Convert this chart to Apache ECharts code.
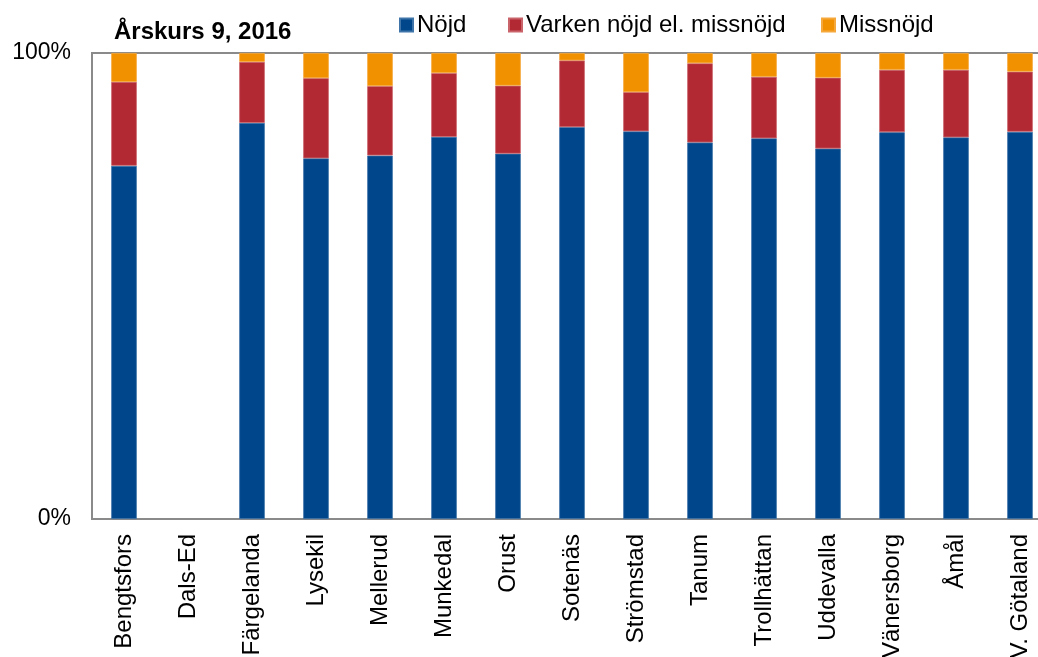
<!DOCTYPE html>
<html>
<head>
<meta charset="utf-8">
<title>Årskurs 9, 2016</title>
<script src="https://cdn.jsdelivr.net/npm/echarts@6/dist/echarts.min.js"></script>
<style>
  html, body { margin: 0; padding: 0; background: #fff; }
  #chart { width: 1038px; height: 657px; }
</style>
</head>
<body>
<div id="chart"></div>
<script>
// Municipalities along the x axis
const categories = ['Bengtsfors', 'Dals-Ed', 'Färgelanda', 'Lysekil', 'Mellerud', 'Munkedal', 'Orust',
  'Sotenäs', 'Strömstad', 'Tanum', 'Trollhättan', 'Uddevalla', 'Vänersborg', 'Åmål', 'V. Götaland'];

// Share of pupils (%) per answer; Dals-Ed has no reported values
const nojd = [75.8, null, 85.0, 77.4, 78.0, 82.0, 78.4, 84.1, 83.2, 80.8, 81.7, 79.5, 83.0, 81.9, 83.1];
const varken = [18.0, null, 13.1, 17.2, 14.9, 13.7, 14.6, 14.3, 8.4, 17.0, 13.2, 15.2, 13.4, 14.5, 12.9];
const missnojd = [6.2, null, 1.9, 5.4, 7.1, 4.3, 7.0, 1.6, 8.4, 2.2, 5.1, 5.3, 3.6, 3.6, 4.0];

const yTicks = [0, 100];

const FONT = '"Liberation Sans", Arial, sans-serif';
const colors = { nojd: '#00468B', varken: '#B22933', missnojd: '#F29100' };

const chart = echarts.init(document.getElementById('chart'), null, { renderer: 'canvas' });

function legendFor(name, left) {
  return {
    data: [name], left: left, top: 13, padding: 0,
    icon: 'rect', itemWidth: 13, itemHeight: 13,
    textStyle: { fontFamily: FONT, fontSize: 24, color: '#000', padding: [0, 0, 0, -1] },
    selectedMode: false
  };
}

function barSeries(name, data, color, border) {
  return {
    name: name, type: 'bar', stack: 'total', data: data,
    barWidth: '40%',
    itemStyle: { color: color, borderColor: border, borderWidth: 0.8 },
    emphasis: { disabled: true }
  };
}

chart.setOption({
  animation: false,
  title: {
    text: 'Årskurs 9, 2016', left: 114, top: 20, padding: 0,
    textStyle: { fontFamily: FONT, fontSize: 24, fontWeight: 'bold', color: '#000' }
  },
  legend: [
    legendFor('Nöjd', 399),
    legendFor('Varken nöjd el. missnöjd', 508),
    legendFor('Missnöjd', 821)
  ],
  grid: {
    left: 92, right: -14, top: 53, bottom: 138,
    outerBoundsMode: 'none', containLabel: false,
    show: true, borderColor: '#8a8a8a', borderWidth: 2, backgroundColor: 'transparent'
  },
  xAxis: {
    type: 'category', data: categories,
    axisLine: { show: false }, axisTick: { show: false },
    axisLabel: {
      rotate: 90, interval: 0, margin: 15,
      fontFamily: FONT, fontSize: 24, color: '#000'
    }
  },
  yAxis: {
    type: 'value', min: yTicks[0], max: yTicks[yTicks.length - 1], interval: 100,
    splitLine: { show: false }, axisLine: { show: false }, axisTick: { show: false },
    axisLabel: {
      formatter: '{value}%', margin: 21,
      fontFamily: FONT, fontSize: 23, color: '#000'
    }
  },
  series: [
    barSeries('Nöjd', nojd, colors.nojd, '#3f74a8'),
    barSeries('Varken nöjd el. missnöjd', varken, colors.varken, '#c9646b'),
    barSeries('Missnöjd', missnojd, colors.missnojd, '#f5a83c')
  ]
});
</script>
</body>
</html>
